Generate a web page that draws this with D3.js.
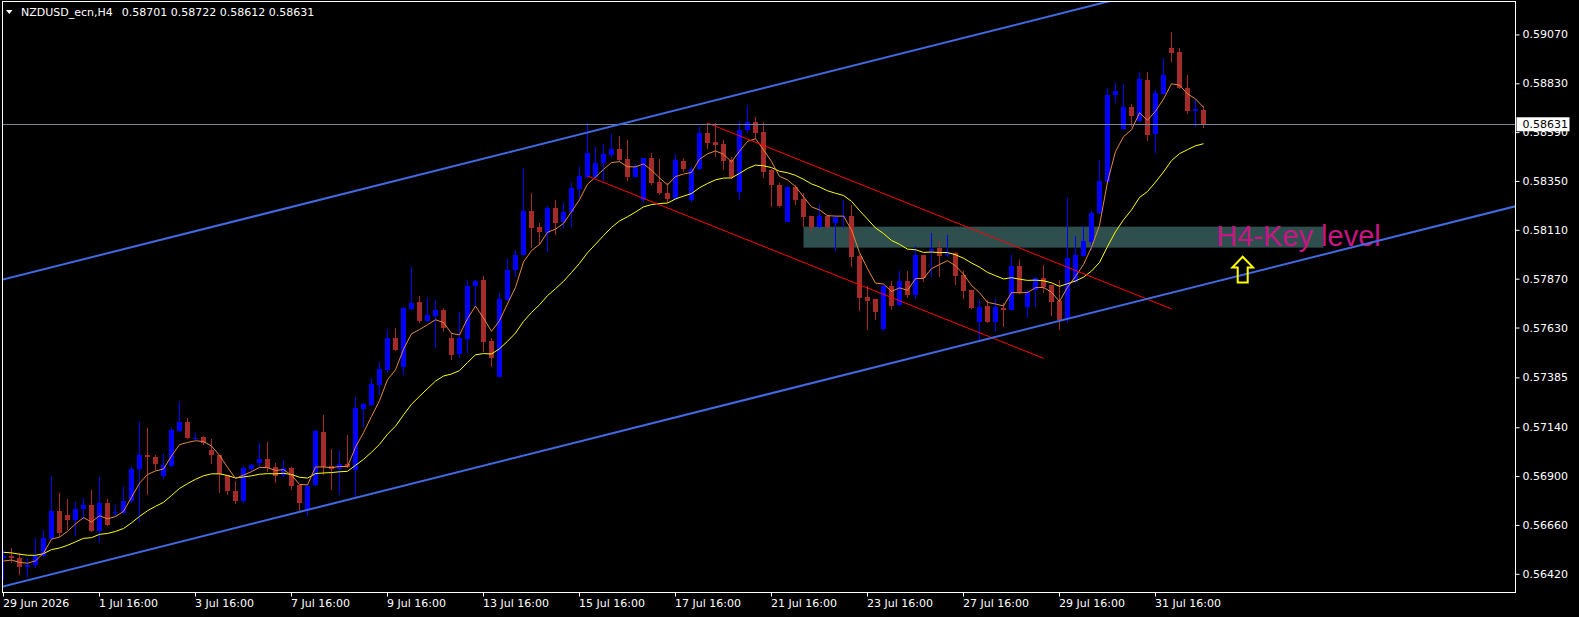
<!DOCTYPE html>
<html>
<head>
<meta charset="utf-8">
<script src="https://cdn.jsdelivr.net/npm/d3@7"></script>
<style>
  html, body { margin: 0; padding: 0; background: #000; }
  svg { display: block; }
</style>
</head>
<body>
<div id="chart"></div>
<script>
// NZDUSD H4 bars, oldest first
var symbolTitle = "NZDUSD_ecn,H4";

var opens = [
  0.56500,0.56510,0.56500,0.56456,0.56466,0.56510,0.56594,0.56731,0.56711,0.56687,
  0.56741,0.56761,0.56633,0.56770,0.56721,0.56721,0.56780,0.56937,0.57006,0.56996,
  0.56903,0.56952,0.57124,0.57168,0.57087,0.57095,0.57031,0.57006,0.56908,0.56829,
  0.56780,0.56937,0.56967,0.56987,0.56947,0.56908,0.56942,0.56859,0.56741,0.56859,
  0.57119,0.56952,0.56937,0.56962,0.56932,0.57232,0.57252,0.57350,0.57424,0.57581,
  0.57439,0.57723,0.57758,0.57665,0.57689,0.57719,0.57581,0.57502,0.57576,0.57837,
  0.57866,0.57566,0.57389,0.57768,0.57913,0.57987,0.58205,0.58126,0.58097,0.58220,
  0.58151,0.58200,0.58313,0.58372,0.58372,0.58441,0.58480,0.58510,0.58460,0.58372,
  0.58259,0.58465,0.58347,0.58293,0.58264,0.58451,0.58259,0.58411,0.58588,0.58544,
  0.58534,0.58456,0.58298,0.58603,0.58642,0.58593,0.58406,0.58333,0.58151,0.58323,
  0.58264,0.58180,0.58126,0.58180,0.58146,0.58175,0.58180,0.57982,0.57782,0.57773,
  0.57625,0.57837,0.57743,0.57861,0.57792,0.57987,0.58008,0.58023,0.57987,0.57999,
  0.57891,0.57817,0.57660,0.57738,0.57660,0.57728,0.57719,0.57935,0.57733,0.57817,
  0.57876,0.57841,0.57763,0.57679,0.57856,0.57984,0.58053,0.58195,0.58347,0.58775,
  0.58608,0.58716,0.58647,0.58849,0.58583,0.58780,0.59006,0.58986,0.58809,0.58696,
  0.58701
];
var highs = [
  0.56539,0.56549,0.56525,0.56500,0.56598,0.56638,0.56903,0.56820,0.56790,0.56775,
  0.56795,0.56834,0.56898,0.56790,0.56761,0.56849,0.56947,0.57168,0.57139,0.57006,
  0.57011,0.57139,0.57271,0.57188,0.57114,0.57100,0.57085,0.57006,0.56908,0.56878,
  0.56952,0.56962,0.57065,0.57070,0.56967,0.56982,0.56947,0.56859,0.56859,0.57129,
  0.57203,0.57036,0.57031,0.57104,0.57291,0.57262,0.57384,0.57463,0.57625,0.57630,
  0.57733,0.57930,0.57787,0.57782,0.57768,0.57728,0.57606,0.57709,0.57866,0.57866,
  0.57886,0.57581,0.57802,0.57972,0.58013,0.58416,0.58293,0.58146,0.58229,0.58259,
  0.58244,0.58343,0.58421,0.58637,0.58519,0.58534,0.58583,0.58573,0.58554,0.58436,
  0.58465,0.58490,0.58460,0.58343,0.58485,0.58465,0.58426,0.58618,0.58637,0.58637,
  0.58554,0.58470,0.58642,0.58726,0.58667,0.58642,0.58411,0.58343,0.58323,0.58333,
  0.58293,0.58180,0.58234,0.58185,0.58175,0.58259,0.58234,0.57991,0.57837,0.57773,
  0.57841,0.57861,0.57910,0.57910,0.58033,0.57987,0.58097,0.58058,0.58087,0.58003,
  0.57913,0.57817,0.57768,0.57768,0.57773,0.57753,0.57989,0.57967,0.57817,0.57881,
  0.57940,0.57841,0.57866,0.58269,0.58082,0.58131,0.58205,0.58456,0.58809,0.58834,
  0.58829,0.58731,0.58888,0.58888,0.58799,0.58957,0.59084,0.59006,0.58873,0.58755,
  0.58722
];
var lows = [
  0.56392,0.56476,0.56417,0.56407,0.56451,0.56505,0.56589,0.56603,0.56638,0.56608,
  0.56687,0.56628,0.56574,0.56657,0.56702,0.56716,0.56770,0.56677,0.56810,0.56932,
  0.56888,0.56947,0.57119,0.57085,0.57080,0.57055,0.56962,0.56820,0.56810,0.56765,
  0.56770,0.56928,0.56947,0.56923,0.56869,0.56898,0.56834,0.56726,0.56706,0.56854,
  0.56908,0.56834,0.56810,0.56942,0.56800,0.57144,0.57247,0.57301,0.57409,0.57517,
  0.57399,0.57719,0.57655,0.57660,0.57532,0.57611,0.57473,0.57483,0.57507,0.57733,
  0.57512,0.57439,0.57389,0.57763,0.57881,0.57987,0.58023,0.58038,0.58003,0.58087,
  0.58121,0.58126,0.58254,0.58367,0.58367,0.58352,0.58470,0.58446,0.58352,0.58370,
  0.58244,0.58333,0.58284,0.58244,0.58259,0.58397,0.58249,0.58406,0.58510,0.58470,
  0.58406,0.58362,0.58259,0.58588,0.58559,0.58367,0.58225,0.58222,0.58151,0.58234,
  0.58126,0.58102,0.58121,0.58121,0.58008,0.58121,0.57930,0.57714,0.57620,0.57669,
  0.57615,0.57719,0.57738,0.57778,0.57773,0.57856,0.57881,0.57881,0.57982,0.57841,
  0.57773,0.57723,0.57571,0.57655,0.57611,0.57635,0.57717,0.57797,0.57679,0.57733,
  0.57802,0.57689,0.57620,0.57655,0.57851,0.57982,0.58013,0.58190,0.58347,0.58736,
  0.58603,0.58618,0.58642,0.58549,0.58490,0.58777,0.58937,0.58805,0.58681,0.58618,
  0.58612
];
var closes = [
  0.56510,0.56500,0.56456,0.56466,0.56510,0.56598,0.56731,0.56623,0.56687,0.56741,
  0.56761,0.56633,0.56770,0.56662,0.56726,0.56780,0.56937,0.57006,0.56996,0.56962,
  0.56957,0.57129,0.57168,0.57090,0.57092,0.57065,0.57006,0.56913,0.56829,0.56780,
  0.56942,0.56957,0.56987,0.56942,0.56903,0.56942,0.56854,0.56770,0.56854,0.57124,
  0.56947,0.56937,0.56962,0.56947,0.57237,0.57257,0.57355,0.57429,0.57581,0.57522,
  0.57728,0.57753,0.57665,0.57694,0.57719,0.57630,0.57497,0.57581,0.57837,0.57861,
  0.57561,0.57483,0.57773,0.57913,0.57991,0.58205,0.58121,0.58102,0.58220,0.58146,
  0.58200,0.58318,0.58377,0.58490,0.58441,0.58485,0.58510,0.58456,0.58372,0.58421,
  0.58465,0.58343,0.58293,0.58264,0.58456,0.58411,0.58411,0.58588,0.58539,0.58529,
  0.58451,0.58372,0.58603,0.58642,0.58588,0.58397,0.58333,0.58229,0.58323,0.58259,
  0.58175,0.58126,0.58180,0.58126,0.58175,0.58180,0.57977,0.57778,0.57763,0.57709,
  0.57837,0.57738,0.57861,0.57792,0.57987,0.57876,0.58018,0.57982,0.57999,0.57886,
  0.57812,0.57728,0.57733,0.57660,0.57733,0.57719,0.57935,0.57802,0.57807,0.57876,
  0.57832,0.57758,0.57669,0.57972,0.57989,0.58058,0.58195,0.58352,0.58775,0.58795,
  0.58716,0.58672,0.58853,0.58578,0.58785,0.58873,0.58981,0.58809,0.58696,0.58706,
  0.58631
];

// moving averages (EMA on close), first value
var fastPeriod = 5, fastSeed = 0.56485;
var slowPeriod = 20, slowSeed = 0.56528;

// time axis: bar index of each label
var xTickBars = [0, 12, 24, 36, 48, 60, 72, 84, 96, 108, 120, 132, 144];
var xTickLabels = ["29 Jun 2026", "1 Jul 16:00", "3 Jul 16:00", "7 Jul 16:00", "9 Jul 16:00",
  "13 Jul 16:00", "15 Jul 16:00", "17 Jul 16:00", "21 Jul 16:00", "23 Jul 16:00",
  "27 Jul 16:00", "29 Jul 16:00", "31 Jul 16:00"];
var yTickValues = [0.59070, 0.58830, 0.58590, 0.58350, 0.58110, 0.57870,
  0.57630, 0.57385, 0.57140, 0.56900, 0.56660, 0.56420];

// drawn objects: [bar index, price]
var channelLow = [[0, 0.56361], [150, 0.57843]];
var channelHigh = [[0, 0.57869], [150, 0.59352]];
var downUpper = [[88, 0.58637], [146, 0.57724]];
var downLower = [[73, 0.58377], [130, 0.57481]];
var keyZone = [[100, 0.58128], [165, 0.58025]];
var keyText = "H4-Key level";
var keyTextAt = [151.6, 0.58033];
var arrowAt = [154.9, 0.57980];

var ctx = {
  w: 1579,
  h: 617,
  left: 2.5,
  top: 1.5,
  right: 1515.5,
  bottom: 592.5
};

var bull = "#0000ff", bear = "#a52a2a";
var font = "'DejaVu Sans', Verdana, sans-serif";
var fmt = d3.format(".5f");

var svg = d3.select("#chart").append("svg")
  .attr("width", ctx.w)
  .attr("height", ctx.h)
  .style("background", "#000");

var x = d3.scaleLinear().domain([0, 150]).range([3.5, 1203.5]);
var y = d3.scaleLinear().domain([0.56420, 0.59070]).range([574.3, 34.93]);

svg.append("clipPath").attr("id", "plot")
  .append("rect")
  .attr("x", ctx.left + 0.5).attr("y", ctx.top + 0.5)
  .attr("width", ctx.right - ctx.left - 1).attr("height", ctx.bottom - ctx.top - 1);

var plot = svg.append("g").attr("clip-path", "url(#plot)");

// key level zone (background object)
plot.append("rect")
  .attr("x", x(keyZone[0][0]))
  .attr("y", y(keyZone[0][1]))
  .attr("width", x(keyZone[1][0]) - x(keyZone[0][0]))
  .attr("height", y(keyZone[1][1]) - y(keyZone[0][1]))
  .attr("fill", "#2f4f4f");

// candles
var bars = d3.range(closes.length).map(function(i) {
  return { i: i, o: opens[i], h: highs[i], l: lows[i], c: closes[i] };
});
function barColor(d) { return d.c >= d.o ? bull : bear; }

plot.append("g").selectAll("line")
  .data(bars)
  .join("line")
  .attr("x1", function(d) { return x(d.i); })
  .attr("x2", function(d) { return x(d.i); })
  .attr("y1", function(d) { return y(d.h); })
  .attr("y2", function(d) { return y(d.l); })
  .attr("stroke", barColor)
  .attr("stroke-width", 1);

plot.append("g").selectAll("rect")
  .data(bars)
  .join("rect")
  .attr("x", function(d) { return x(d.i) - 2.5; })
  .attr("y", function(d) { return y(Math.max(d.o, d.c)); })
  .attr("width", 5)
  .attr("height", function(d) { return Math.max(1, y(Math.min(d.o, d.c)) - y(Math.max(d.o, d.c))); })
  .attr("fill", barColor)
  .attr("shape-rendering", "crispEdges");

// exponential moving averages
function ema(values, period, seed) {
  var k = 2 / (period + 1);
  var out = [seed];
  for (var i = 1; i < values.length; i++) {
    out.push(out[i - 1] + k * (values[i] - out[i - 1]));
  }
  return out;
}
var maLine = d3.line()
  .x(function(d, i) { return x(i); })
  .y(function(d) { return y(d); });

plot.append("path")
  .attr("d", maLine(ema(closes, slowPeriod, slowSeed)))
  .attr("fill", "none")
  .attr("stroke", "#ffff00")
  .attr("stroke-width", 1);
plot.append("path")
  .attr("d", maLine(ema(closes, fastPeriod, fastSeed)))
  .attr("fill", "none")
  .attr("stroke", "#e08a3c")
  .attr("stroke-width", 1);

// trend lines
function priceAt(pts, i) {
  var slope = (pts[1][1] - pts[0][1]) / (pts[1][0] - pts[0][0]);
  return pts[0][1] + slope * (i - pts[0][0]);
}
function drawTrend(pts, from, to, color, width) {
  plot.append("line")
    .attr("x1", x(from)).attr("y1", y(priceAt(pts, from)))
    .attr("x2", x(to)).attr("y2", y(priceAt(pts, to)))
    .attr("stroke", color)
    .attr("stroke-width", width);
}
drawTrend(downUpper, downUpper[0][0], downUpper[1][0], "#ff0000", 1);
drawTrend(downLower, downLower[0][0], downLower[1][0], "#ff0000", 1);

// last price line
plot.append("line")
  .attr("x1", ctx.left).attr("x2", ctx.right)
  .attr("y1", Math.round(y(closes[closes.length - 1])) + 0.5)
  .attr("y2", Math.round(y(closes[closes.length - 1])) + 0.5)
  .attr("stroke", "#778899")
  .attr("stroke-width", 1);

plot.append("text")
  .attr("x", x(keyTextAt[0]))
  .attr("y", y(keyTextAt[1]))
  .attr("font-family", "'Liberation Sans', Arial, sans-serif")
  .attr("font-size", 29)
  .attr("fill", "#c71585")
  .text(keyText);

// rising channel (rays)
drawTrend(channelLow, -2, 200, "#4169e1", 2);
drawTrend(channelHigh, -2, 200, "#4169e1", 2);

// hollow up arrow
var arrow = plot.append("g")
  .attr("transform", "translate(" + x(arrowAt[0]) + "," + y(arrowAt[1]) + ")");
arrow.append("path")
  .attr("d", "M0,0 L10.3,10.6 L5,10.6 L5,25.6 L-5,25.6 L-5,10.6 L-10.3,10.6 Z")
  .attr("fill", "none")
  .attr("stroke", "#ffff00")
  .attr("stroke-width", 2)
  .attr("stroke-linejoin", "miter");

// frame
svg.append("rect")
  .attr("x", ctx.left).attr("y", ctx.top)
  .attr("width", ctx.right - ctx.left)
  .attr("height", ctx.bottom - ctx.top)
  .attr("fill", "none")
  .attr("stroke", "#ffffff")
  .attr("stroke-width", 1);

// axes
var xAxis = d3.axisBottom(x)
  .tickValues(xTickBars)
  .tickFormat(function(d, i) { return xTickLabels[i]; })
  .tickSize(4)
  .offset(0);
var gx = svg.append("g")
  .attr("transform", "translate(0," + ctx.bottom + ")")
  .attr("color", "#ffffff")
  .call(xAxis);
gx.select(".domain").remove();
gx.selectAll("text")
  .attr("text-anchor", "start")
  .attr("dx", -0.5)
  .attr("font-family", font)
  .attr("font-size", 11)
  .attr("fill", "#ffffff");

var yAxis = d3.axisRight(y)
  .tickValues(yTickValues)
  .tickFormat(fmt)
  .tickSize(4)
  .offset(0);
var gy = svg.append("g")
  .attr("transform", "translate(" + ctx.right + ",0)")
  .attr("color", "#ffffff")
  .call(yAxis);
gy.select(".domain").remove();
gy.selectAll("text")
  .attr("font-family", font)
  .attr("font-size", 11)
  .attr("fill", "#ffffff");

// last price label (covers the tick label under it, as in the terminal)
var last = closes.length - 1;
var ly = y(closes[last]);
svg.append("rect")
  .attr("x", ctx.right + 1).attr("y", ly - 7)
  .attr("width", 53).attr("height", 14)
  .attr("fill", "#ffffff");
svg.append("text")
  .attr("x", ctx.right + 7).attr("y", ly)
  .attr("dy", "0.32em")
  .attr("font-family", font)
  .attr("font-size", 11)
  .attr("fill", "#000000")
  .text(fmt(closes[last]));

// title
svg.append("path")
  .attr("d", "M6,10 L12.5,10 L9.25,14 Z")
  .attr("fill", "#ffffff");
svg.append("text")
  .attr("x", 21).attr("y", 16)
  .attr("font-family", font)
  .attr("font-size", 11)
  .attr("fill", "#ffffff")
  .text(symbolTitle);
svg.append("text")
  .attr("x", 121.7).attr("y", 16)
  .attr("font-family", font)
  .attr("font-size", 11)
  .attr("fill", "#ffffff")
  .text([opens[last], highs[last], lows[last], closes[last]].map(fmt).join(" "));
</script>
</body>
</html>
